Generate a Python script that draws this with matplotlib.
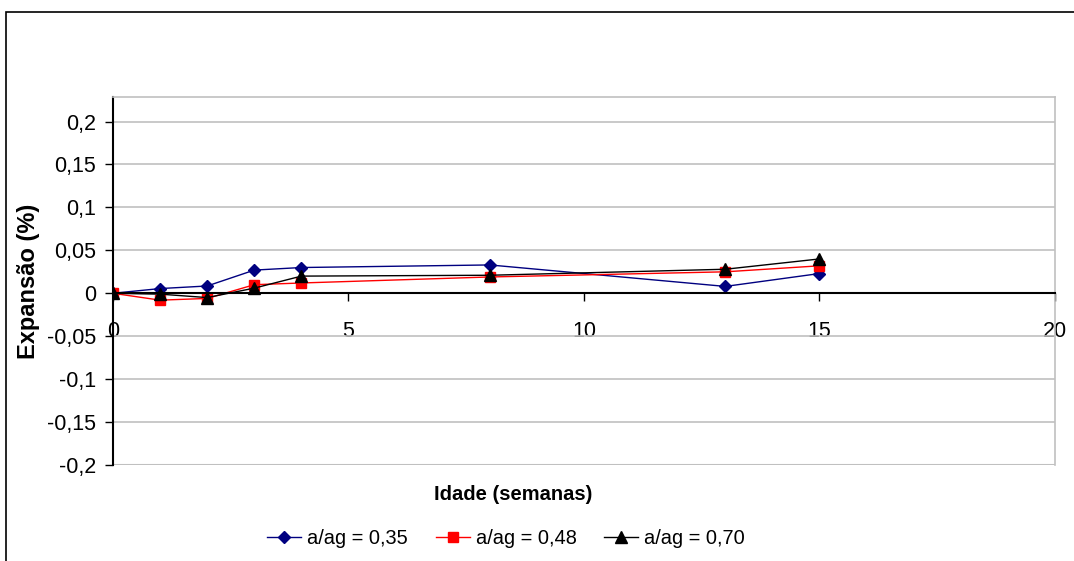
import matplotlib.pyplot as plt
from matplotlib.patches import Rectangle

plt.rcParams['font.family'] = ['Liberation Sans', 'DejaVu Sans']

# weeks
semanas = [0, 1, 2, 3, 4, 8, 13, 15]
exp_035 = [0.0, 0.0055, 0.0085, 0.027, 0.030, 0.033, 0.008, 0.023]
exp_048 = [0.0, -0.008, -0.006, 0.010, 0.012, 0.019, 0.025, 0.032]
exp_070 = [0.0, -0.001, -0.005, 0.006, 0.020, 0.021, 0.028, 0.040]

xticks = [0, 5, 10, 15, 20]
yticks = [-0.2, -0.15, -0.1, -0.05, 0, 0.05, 0.1, 0.15, 0.2]
ylabels = ['-0,2', '-0,15', '-0,1', '-0,05', '0', '0,05', '0,1', '0,15', '0,2']

fig = plt.figure(figsize=(10.74, 5.61), dpi=100)
ax = fig.add_axes([0.1052, 0.1711, 0.8771, 0.656])

# chart border
fig.patches.append(Rectangle((6/1074, -0.05), 1.2, 1 - 12/561 + 0.05,
                             transform=fig.transFigure, fill=False,
                             edgecolor='black', linewidth=1.2))

ax.plot(semanas, exp_035, color='#000080', marker='D', markersize=6.5, linewidth=1, label='a/ag = 0,35')
ax.plot(semanas, exp_048, color='#ff0000', marker='s', markersize=7.5, linewidth=1, label='a/ag = 0,48')
ax.plot(semanas, exp_070, color='black', marker='^', markersize=8.5, linewidth=1, label='a/ag = 0,70')

ax.set_xlim(0, 20)
ax.set_ylim(-0.2, 0.2286)
ax.set_xticks(xticks)
ax.set_yticks(yticks)
ax.set_yticklabels(ylabels)

ax.grid(axis='y', color='#c0c0c0', linewidth=1.2)
ax.set_axisbelow(True)

ax.spines['bottom'].set_position(('data', 0))
ax.spines['bottom'].set_color('black')
ax.spines['bottom'].set_linewidth(1.5)
ax.spines['left'].set_color('black')
ax.spines['left'].set_linewidth(1.5)
for s in ['top', 'right']:
    ax.spines[s].set_color('#c0c0c0')
    ax.spines[s].set_linewidth(1.2)
# bottom border of plot area
ax.axhline(-0.2, color='#c0c0c0', linewidth=1.5, zorder=0)

ax.tick_params(axis='x', direction='out', length=6, width=1, pad=14, labelsize=15.5)
ax.tick_params(axis='y', direction='out', length=6, width=1, pad=6, labelsize=15.5)

ax.set_ylabel('Expansão (%)', fontsize=17, fontweight='bold', labelpad=5)
fig.text(513/1074, 1 - 495/561, 'Idade (semanas)', ha='center', va='center',
         fontsize=14.5, fontweight='bold')

fig.legend(loc='center', bbox_to_anchor=(506/1074, 1 - 538/561), ncol=3,
           frameon=False, fontsize=14.4, handlelength=1.7, columnspacing=1.4,
           handletextpad=0.3)

fig.savefig('out.png', dpi=100)
